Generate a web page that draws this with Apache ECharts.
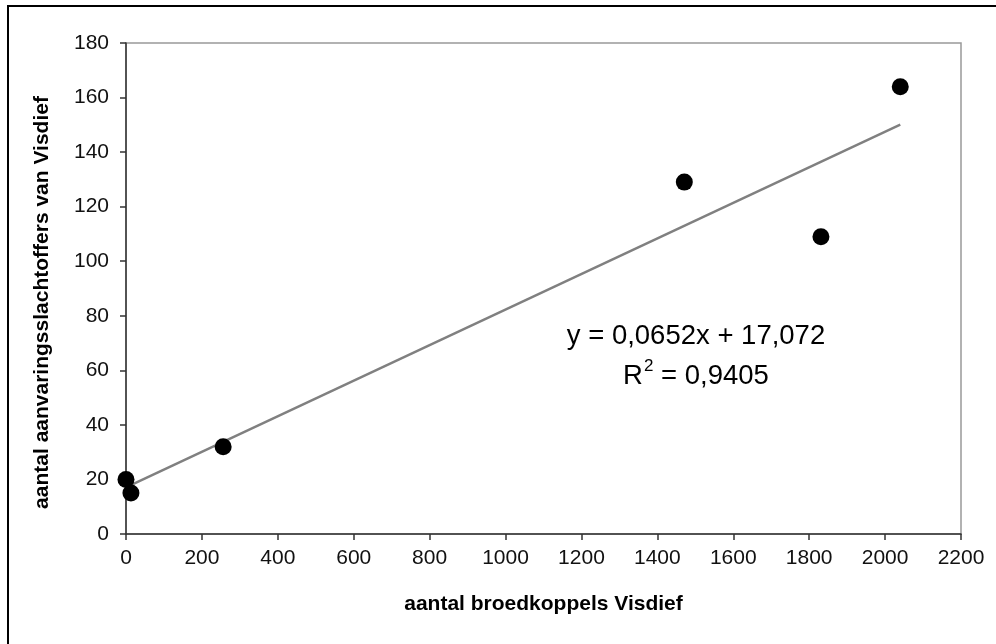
<!DOCTYPE html>
<html>
<head>
<meta charset="utf-8">
<script src="https://cdn.jsdelivr.net/npm/echarts@6/dist/echarts.min.js"></script>
<style>html,body{margin:0;padding:0;background:#fff}#c{width:996px;height:644px}</style>
</head>
<body>
<div id="c"></div>
<script>
// data
const broedkoppels = [0, 13, 256, 1471, 1831, 2040];
const slachtoffers = [20, 15, 32, 129, 109, 164];
const trendX = [0, 2040];
const trendY = [17.07, 150.08];
const xTicks = [0, 200, 400, 600, 800, 1000, 1200, 1400, 1600, 1800, 2000, 2200];
const yTicks = [0, 20, 40, 60, 80, 100, 120, 140, 160, 180];
const equationText = 'y = 0,0652x + 17,072';
const r2Value = '0,9405';

const FONT = '"Liberation Sans", Arial, sans-serif';
const chart = echarts.init(document.getElementById('c'), null, {renderer: 'canvas'});

const points = broedkoppels.map((x, i) => [x, slachtoffers[i]]);
const trend = trendX.map((x, i) => [x, trendY[i]]);

chart.setOption({
  backgroundColor: '#fff',
  animation: false,
  grid: {left: 126, top: 43, right: 35, bottom: 110, show: true, borderColor: '#999', borderWidth: 1.5, backgroundColor: 'transparent'},
  xAxis: {
    type: 'value', min: xTicks[0], max: xTicks[xTicks.length - 1], interval: 200,
    name: 'aantal broedkoppels Visdief', nameLocation: 'middle', nameGap: 60,
    nameTextStyle: {fontFamily: FONT, fontSize: 21, fontWeight: 'bold', color: '#000'},
    axisLine: {show: true, onZero: false, lineStyle: {color: '#333', width: 1.5}},
    axisTick: {show: true, inside: false, length: 6, lineStyle: {color: '#333', width: 1.5}},
    axisLabel: {fontFamily: FONT, fontSize: 21, color: '#111', margin: 14, formatter: v => String(v)},
    splitLine: {show: false}
  },
  yAxis: {
    type: 'value', min: yTicks[0], max: yTicks[yTicks.length - 1], interval: 20,
    name: 'aantal aanvaringsslachtoffers van Visdief', nameLocation: 'middle', nameGap: 73,
    nameTextStyle: {fontFamily: FONT, fontSize: 21, fontWeight: 'bold', color: '#000', padding: [0, 28, 0, 0]},
    axisLine: {show: true, onZero: false, lineStyle: {color: '#333', width: 1.5}},
    axisTick: {show: true, inside: false, length: 6, lineStyle: {color: '#333', width: 1.5}},
    axisLabel: {fontFamily: FONT, fontSize: 21, color: '#111', margin: 17, formatter: v => String(v)},
    splitLine: {show: false}
  },
  series: [
    {
      type: 'line', data: trend, symbol: 'none', silent: true,
      lineStyle: {color: '#808080', width: 2.5}, z: 2
    },
    {
      type: 'scatter', data: points, symbol: 'circle', symbolSize: 17,
      itemStyle: {color: '#000', opacity: 1}, z: 3
    }
  ],
  graphic: [
    {type: 'rect', shape: {x: 8, y: 6, width: 1200, height: 900}, style: {fill: 'none', stroke: '#000', lineWidth: 2}, silent: true},
    {type: 'text', x: 696, y: 336, style: {text: equationText, font: '27.5px ' + FONT, fill: '#000', align: 'center', verticalAlign: 'middle'}},
    {type: 'text', x: 696, y: 374, style: {
      text: '{b|R}{s|2}{b| = ' + r2Value + '}',
      align: 'center', verticalAlign: 'middle',
      rich: {
        b: {fontFamily: FONT, fontSize: 27.5, fill: '#000', color: '#000', verticalAlign: 'bottom', lineHeight: 32},
        s: {fontFamily: FONT, fontSize: 17, fill: '#000', color: '#000', verticalAlign: 'top', lineHeight: 32, padding: [0, 0, 0, 1]}
      }
    }}
  ]
});
</script>
</body>
</html>
